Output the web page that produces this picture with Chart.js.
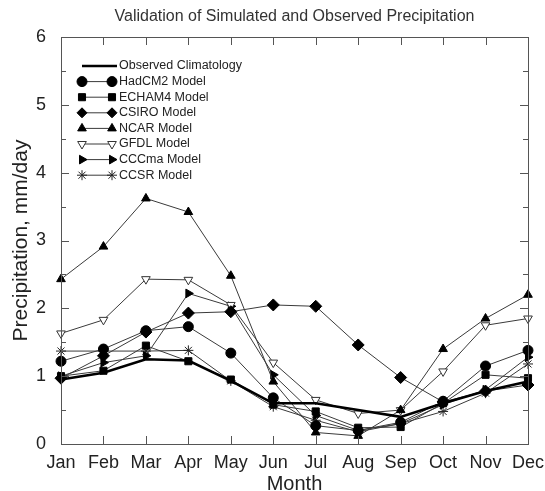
<!DOCTYPE html>
<html>
<head>
<meta charset="utf-8">
<title>Validation of Simulated and Observed Precipitation</title>
<script src="https://cdn.jsdelivr.net/npm/chart.js@4"></script>
<style>
  html, body { margin: 0; padding: 0; background: #fff; }
  #wrap { width: 545px; height: 491px; }
</style>
</head>
<body>
<div id="wrap"><canvas id="myChart" width="545" height="491"></canvas></div>
<script>
// Dados
const months = ['Jan', 'Feb', 'Mar', 'Apr', 'May', 'Jun', 'Jul', 'Aug', 'Sep', 'Oct', 'Nov', 'Dec'];
const observed = [0.95, 1.05, 1.25, 1.23, 0.93, 0.60, 0.60, 0.50, 0.40, 0.60, 0.78, 0.92];
const hadcm2 = [1.22, 1.40, 1.67, 1.73, 1.34, 0.68, 0.27, 0.20, 0.32, 0.63, 1.15, 1.38];
const echam4 = [1.00, 1.08, 1.45, 1.22, 0.95, 0.58, 0.48, 0.24, 0.25, 0.60, 1.02, 0.97];
const csiro = [0.97, 1.30, 1.65, 1.93, 1.95, 2.05, 2.03, 1.46, 0.98, 0.62, 0.78, 0.87];
const ncar = [2.43, 2.91, 3.62, 3.42, 2.48, 0.92, 0.17, 0.12, 0.50, 1.40, 1.85, 2.20];
const gfdl = [1.63, 1.83, 2.43, 2.42, 2.05, 1.20, 0.65, 0.45, 0.50, 1.07, 1.75, 1.85];
const cccma = [1.00, 1.20, 1.30, 2.22, 2.03, 1.02, 0.42, 0.20, 0.30, 0.58, 0.80, 1.28];
const ccsr = [1.37, 1.37, 1.37, 1.38, 0.93, 0.55, 0.35, 0.18, 0.30, 0.48, 0.75, 1.18];
const yTicks = [0, 1, 2, 3, 4, 5, 6];
const chartTitle = 'Validation of Simulated and Observed Precipitation';

const FONT = 'Liberation Sans, Arial, Helvetica, sans-serif';
const LINE = '#3a3a3a';

function model(label, data, style, opts) {
  return Object.assign({
    label,
    data,
    borderColor: LINE,
    borderWidth: 1,
    pointStyle: style,
    pointRadius: 5,
    pointBackgroundColor: '#000',
    pointBorderColor: '#000',
    pointBorderWidth: 1,
    tension: 0
  }, opts || {});
}

const datasets = [
  { label: 'Observed Climatology', data: observed, borderColor: '#000', borderWidth: 2.6, pointRadius: 0, tension: 0 },
  model('HadCM2 Model', hadcm2, 'circle'),
  model('ECHAM4 Model', echam4, 'rect'),
  model('CSIRO Model', csiro, 'rectRot', { pointRadius: 6 }),
  model('NCAR Model', ncar, 'triangle'),
  model('GFDL Model', gfdl, 'triangle', { pointBackgroundColor: '#fff', pointBorderColor: '#333', pointRotation: 180 }),
  model('CCCma Model', cccma, 'triangle', { pointRotation: 90 }),
  model('CCSR Model', ccsr, 'star', { pointBorderColor: '#222' })
];

// Moldura, marcas para dentro e título
const framePlugin = {
  id: 'frame',
  afterDraw(chart) {
    const { ctx, chartArea: a, scales } = chart;
    ctx.save();
    ctx.strokeStyle = '#555';
    ctx.lineWidth = 1;
    ctx.strokeRect(a.left + 0.5, a.top + 0.5, a.right - a.left, a.bottom - a.top);
    ctx.beginPath();
    scales.y.ticks.forEach(t => {
      const y = Math.round(scales.y.getPixelForValue(t.value)) + 0.5;
      const len = t.value % 1 === 0 ? 8 : 5;
      ctx.moveTo(a.left, y); ctx.lineTo(a.left + len, y);
      ctx.moveTo(a.right, y); ctx.lineTo(a.right - len, y);
    });
    months.forEach((m, i) => {
      const x = Math.round(scales.x.getPixelForValue(i)) + 0.5;
      ctx.moveTo(x, a.bottom); ctx.lineTo(x, a.bottom - 8);
      ctx.moveTo(x, a.top); ctx.lineTo(x, a.top + 8);
    });
    ctx.stroke();

    ctx.fillStyle = '#333';
    ctx.font = '16px ' + FONT;
    ctx.textAlign = 'center';
    ctx.textBaseline = 'middle';
    ctx.fillText(chartTitle, (a.left + a.right) / 2, 17);
    ctx.restore();
  }
};

// Legenda dentro do gráfico
const legendPlugin = {
  id: 'insideLegend',
  afterDatasetsDraw(chart) {
    const ctx = chart.ctx;
    const x0 = 82, x1 = 112, rowH = 15.6;
    let y = 66;
    ctx.save();
    ctx.font = '12.5px ' + FONT;
    ctx.textBaseline = 'middle';
    chart.data.datasets.forEach((ds, i) => {
      ctx.strokeStyle = ds.borderColor;
      ctx.lineWidth = ds.borderWidth;
      ctx.beginPath();
      ctx.moveTo(x0, y);
      ctx.lineTo(i === 0 ? x1 + 5 : x1, y);
      ctx.stroke();
      if (ds.pointRadius > 0) {
        const opt = {
          pointStyle: ds.pointStyle,
          radius: Math.min(ds.pointRadius, 5),
          rotation: ds.pointRotation || 0,
          borderWidth: 1
        };
        ctx.fillStyle = ds.pointBackgroundColor;
        ctx.strokeStyle = ds.pointBorderColor;
        ctx.lineWidth = 1;
        Chart.helpers.drawPoint(ctx, opt, x0, y);
        ctx.fillStyle = ds.pointBackgroundColor;
        ctx.strokeStyle = ds.pointBorderColor;
        Chart.helpers.drawPoint(ctx, opt, x1, y);
      }
      ctx.fillStyle = '#222';
      ctx.fillText(ds.label, 119, y);
      y += rowH;
    });
    ctx.restore();
  }
};

const ctx = document.getElementById('myChart').getContext('2d');
new Chart(ctx, {
  type: 'line',
  data: { labels: months, datasets },
  options: {
    responsive: false,
    animation: false,
    layout: { padding: { left: 0, right: 17, top: 37, bottom: 0 } },
    plugins: {
      legend: { display: false },
      tooltip: { enabled: false },
      title: { display: false }
    },
    scales: {
      x: {
        offset: false,
        grid: { display: false, drawTicks: false },
        border: { display: false },
        ticks: { color: '#222', font: { family: FONT, size: 18 }, padding: 8, maxRotation: 0, autoSkip: false },
        title: { display: true, text: 'Month', color: '#222', font: { family: FONT, size: 20 }, padding: { top: 0, bottom: -5 } },
        afterFit: s => { s.height = 47; s.paddingRight = 0; s.paddingLeft = 0; }
      },
      y: {
        min: 0,
        max: 6,
        grid: { display: false, drawTicks: false },
        border: { display: false },
        ticks: {
          stepSize: 0.5,
          color: '#222',
          font: { family: FONT, size: 18 },
          padding: 15,
          callback: v => yTicks.includes(v) ? String(v) : ''
        },
        title: { display: true, text: 'Precipitation, mm/day', color: '#222', font: { family: FONT, size: 21 }, padding: { top: 9, bottom: 0 } },
        afterFit: s => { s.width = 61; s.paddingTop = 0; s.paddingBottom = 0; }
      }
    }
  },
  plugins: [framePlugin, legendPlugin]
});
</script>
</body>
</html>
